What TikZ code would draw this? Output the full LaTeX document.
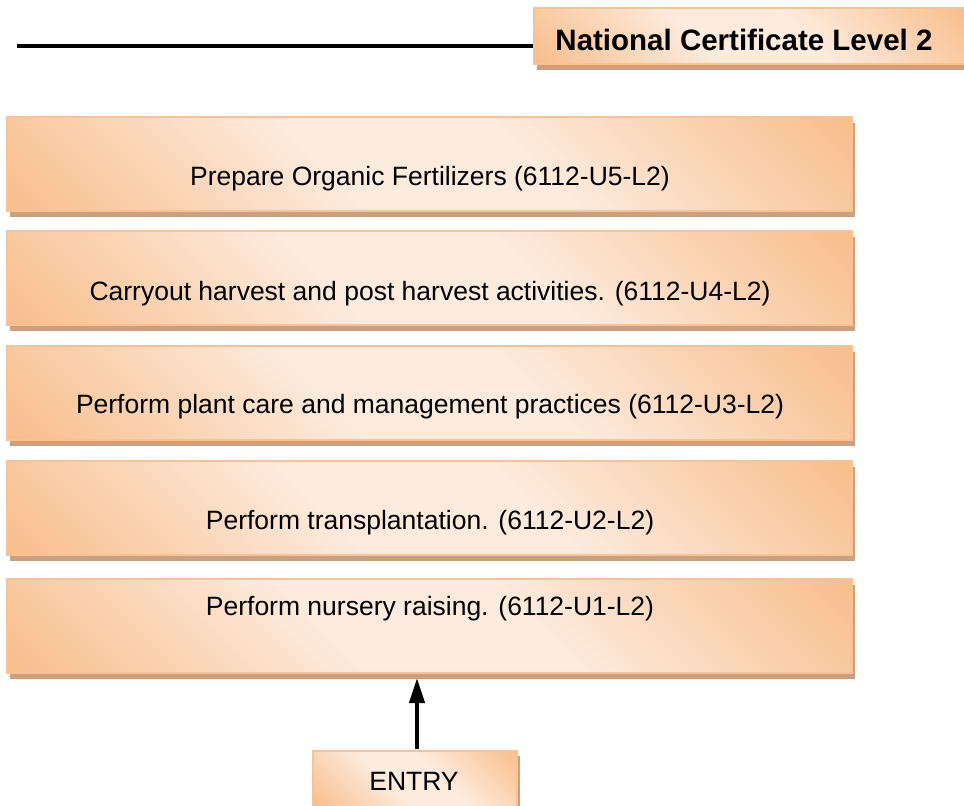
\documentclass[tikz,border=0pt]{standalone}
\usepackage{fontspec}
\setmainfont{Liberation Sans}
\usetikzlibrary{arrows.meta}
\definecolor{peachdark}{HTML}{F8BE8C}
\definecolor{peachlight}{HTML}{FDEBDD}
\definecolor{peachborder}{HTML}{F9C294}
\definecolor{shadowtan}{HTML}{C9A080}
\pgfdeclareverticalshading{peachshade}{100bp}{color(0bp)=(peachdark); color(15bp)=(peachdark); color(42bp)=(peachlight); color(58bp)=(peachlight); color(85bp)=(peachdark); color(100bp)=(peachdark)}
\tikzset{
  x=1pt, y=-1pt,
  unitbox/.style={draw=peachborder, line width=1.2pt, shading=peachshade, shading angle=-45, inner sep=0pt, outer sep=0pt},
  boxshadow/.style={fill=shadowtan, draw=none},
  lbl/.style={font=\fontsize{26.5}{30}\selectfont, text=black, inner sep=0pt},
  arr/.style={line width=4pt, -{Triangle[length=25pt,width=15pt]}},
}
\begin{document}
\begin{tikzpicture}
\useasboundingbox (0,0) rectangle (964,806);
% header line and box
\draw[line width=4.5pt] (17,46) coordinate (lineL) -- (534,46) coordinate (lineR);
\fill[boxshadow] (537,14) rectangle (970,70);
\path[unitbox] (534,8) rectangle (968,64);
\node[lbl, font=\fontsize{29.5}{33}\selectfont\bfseries] (nc) at (744,40) {National Certificate Level 2};
% unit boxes
\foreach \t/\nm in {117/b1, 231/b2, 346/b3, 461/b4, 579/b5}{
  \fill[boxshadow] (10,\t+6) rectangle (855,\t+100);
  \path[unitbox] (7,\t) rectangle (852,\t+94);
  \coordinate (\nm top) at (429.5,\t);
  \coordinate (\nm bot) at (429.5,\t+94);
}
\node[lbl] (u5) at (430,179) {Prepare Organic Fertilizers (6112-U5-L2)};
\node[lbl] (u4) at (430,294) {Carryout harvest and post harvest activities. (6112-U4-L2)};
\node[lbl] (u3) at (430,407) {Perform plant care and management practices (6112-U3-L2)};
\node[lbl] (u2) at (430,523) {Perform transplantation. (6112-U2-L2)};
\node[lbl] (u1) at (430,609) {Perform nursery raising. (6112-U1-L2)};
% entry
\fill[boxshadow] (316,756) rectangle (520,812);
\path[unitbox] (313,751) rectangle (517,808);
\node[lbl] (entry) at (414,781) {ENTRY};
\coordinate (entrytop) at (417,749);
\coordinate (arrtip) at (417,678);
\draw[arr] (entrytop) -- (arrtip);
\end{tikzpicture}
\end{document}
